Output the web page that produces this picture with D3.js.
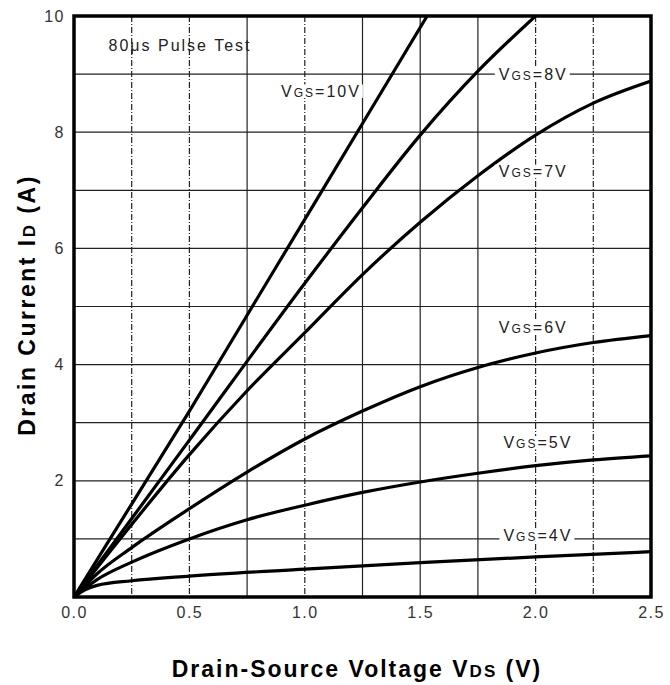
<!DOCTYPE html>
<html><head><meta charset="utf-8">
<script src="https://cdn.jsdelivr.net/npm/d3@7"></script>
<style>
body{margin:0;background:#fff;}
svg{display:block;}
</style></head>
<body>
<svg id="chart" width="670" height="685"></svg>
<script>
// ---- data ----
const xTicks = [0, 0.5, 1.0, 1.5, 2.0, 2.5];
const yTicks = [2, 4, 6, 8, 10];
const xGrid = [0.25, 0.5, 0.75, 1.0, 1.25, 1.5, 1.75, 2.0, 2.25];
const xGridDashed = [0.25, 0.5, 1.0, 2.0, 2.25];
const yGrid = [1, 2, 3, 4, 5, 6, 7, 8, 9];
const series = ["10V", "8V", "7V", "6V", "5V", "4V"];
const vds10 = [0, 0.25, 0.5, 0.75, 1.0, 1.25, 1.53];
const id10  = [0, 1.6, 3.2, 4.85, 6.5, 8.15, 10];
const vds8 = [0, 0.5, 1.0, 1.25, 1.5, 1.75, 2.0];
const id8  = [0, 2.7, 5.4, 6.7, 7.95, 9.05, 10.0];
const vds7 = [0, 0.25, 0.5, 0.75, 1.0, 1.25, 1.5, 1.75, 2.0, 2.25, 2.5];
const id7  = [0, 1.25, 2.45, 3.55, 4.55, 5.55, 6.45, 7.25, 7.95, 8.5, 8.88];
const vds6 = [0, 0.1, 0.25, 0.5, 0.75, 1.0, 1.25, 1.5, 1.75, 2.0, 2.25, 2.5];
const id6  = [0, 0.4, 0.85, 1.52, 2.15, 2.72, 3.2, 3.62, 3.95, 4.2, 4.38, 4.5];
const vds5 = [0, 0.1, 0.25, 0.5, 0.75, 1.0, 1.25, 1.5, 1.75, 2.0, 2.25, 2.5];
const id5  = [0, 0.3, 0.6, 1.0, 1.33, 1.58, 1.8, 1.98, 2.13, 2.26, 2.36, 2.43];
const vds4 = [0, 0.05, 0.1, 0.25, 0.5, 1.0, 1.5, 2.0, 2.5];
const id4  = [0, 0.13, 0.2, 0.28, 0.36, 0.48, 0.59, 0.69, 0.78];
const curveX = [vds10, vds8, vds7, vds6, vds5, vds4];
const curveY = [id10, id8, id7, id6, id5, id4];
// label anchor (data coords) for each curve label
const labelVds = [1.07, 1.99, 1.99, 1.99, 2.01, 2.01];
const labelId  = [8.71, 9.0, 7.33, 4.65, 2.66, 1.07];

// ---- layout ----
const svg = d3.select("#chart");
const L = 74, R = 651, T = 16, B = 597;
const x = d3.scaleLinear().domain([0, 2.5]).range([L, R]);
const y = d3.scaleLinear().domain([0, 10]).range([B, T]);
const font = "'Liberation Sans', Arial, Helvetica, sans-serif";

svg.append("defs").append("clipPath").attr("id", "clip")
  .append("rect").attr("x", L).attr("y", T).attr("width", R - L).attr("height", B - T);

// grid
const g = svg.append("g");
g.selectAll("line.vg").data(xGrid).enter().append("line")
  .attr("x1", d => x(d)).attr("x2", d => x(d)).attr("y1", T).attr("y2", B)
  .attr("stroke", "#222").attr("stroke-width", 1.2)
  .attr("stroke-dasharray", d => xGridDashed.includes(d) ? "6,2,1,2" : null);
g.selectAll("line.hg").data(yGrid).enter().append("line")
  .attr("x1", L).attr("x2", R).attr("y1", d => y(d)).attr("y2", d => y(d))
  .attr("stroke", "#222").attr("stroke-width", 1.2);

// curves
const line = d3.line().x(d => x(d[0])).y(d => y(d[1])).curve(d3.curveMonotoneX);
const curves = svg.append("g").attr("clip-path", "url(#clip)");
series.forEach((s, i) => {
  const pts = curveX[i].map((v, j) => [v, curveY[i][j]]);
  curves.append("path").datum(pts).attr("d", line)
    .attr("fill", "none").attr("stroke", "#000").attr("stroke-width", 3.2)
    .attr("stroke-linejoin", "round");
});

// frame
svg.append("rect").attr("x", L).attr("y", T).attr("width", R - L).attr("height", B - T)
  .attr("fill", "none").attr("stroke", "#000").attr("stroke-width", 3.5);

// axes
const xAxis = svg.append("g").attr("transform", `translate(0,${B})`)
  .call(d3.axisBottom(x).tickValues(xTicks).tickSize(0).tickPadding(10).tickFormat(d3.format(".1f")));
const yAxis = svg.append("g").attr("transform", `translate(${L},0)`)
  .call(d3.axisLeft(y).tickValues(yTicks).tickSize(0).tickPadding(9).tickFormat(d3.format("d")));
[xAxis, yAxis].forEach(a => {
  a.select(".domain").remove();
  a.selectAll("text").attr("font-family", font).attr("font-size", 16)
    .attr("fill", "#333").attr("letter-spacing", 1.5);
});

// curve labels
const lab = svg.append("g");
series.forEach((s, i) => {
  const t = lab.append("text").attr("x", x(labelVds[i])).attr("y", y(labelId[i]))
    .attr("text-anchor", "middle").attr("dominant-baseline", "central")
    .attr("font-family", font).attr("font-size", 16).attr("fill", "#222")
    .attr("letter-spacing", 2);
  t.append("tspan").text("V");
  t.append("tspan").attr("font-size", 12).attr("dy", 2).text("GS");
  t.append("tspan").attr("dy", -2).text("=" + s);
  const bb = t.node().getBBox();
  lab.insert("rect", () => t.node()).attr("x", bb.x - 4).attr("y", bb.y + 2)
    .attr("width", bb.width + 6).attr("height", bb.height - 4).attr("fill", "#fff");
});

svg.append("text").attr("x", 180).attr("y", 45).attr("text-anchor", "middle")
  .attr("dominant-baseline", "central").attr("font-family", font).attr("font-size", 16)
  .attr("fill", "#222").attr("letter-spacing", 2).text("80μs Pulse Test");

// axis titles
const xt = svg.append("text").attr("x", 357).attr("y", 677).attr("text-anchor", "middle")
  .attr("font-family", font).attr("font-weight", "bold").attr("font-size", 23)
  .attr("fill", "#000").attr("letter-spacing", 2);
xt.append("tspan").text("Drain-Source Voltage V");
xt.append("tspan").attr("font-size", 17).text("DS");
xt.append("tspan").text(" (V)");

const yt = svg.append("text").attr("transform", "translate(35,305) rotate(-90)")
  .attr("text-anchor", "middle")
  .attr("font-family", font).attr("font-weight", "bold").attr("font-size", 23)
  .attr("fill", "#000").attr("letter-spacing", 2.5);
yt.append("tspan").text("Drain Current I");
yt.append("tspan").attr("font-size", 17).text("D");
yt.append("tspan").text(" (A)");
</script>
</body></html>
